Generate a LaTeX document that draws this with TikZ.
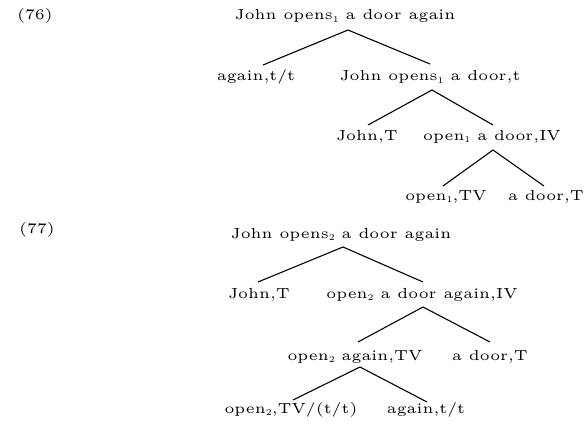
\documentclass[tikz,border=0pt]{standalone}
\usepackage{graphicx}
% small optical size, enlarged: wide letters with heavy strokes
\newcommand\treelabel[1]{\scalebox{2.92}{\fontsize{5}{6}\selectfont #1}}
% index digit set low and small
\newcommand\idx[1]{\raisebox{-0.7pt}{\fontsize{3}{3}\selectfont #1}}
\begin{document}
\begin{tikzpicture}[x=1pt,y=-1pt,
  lbl/.style={anchor=base,inner sep=0pt},
  branch/.style={line width=1.1pt}]
\useasboundingbox (0,0) rectangle (587,428);

% ---- (76) ----
\node[lbl] (n76) at (35,20) {\treelabel{(76)}};
\node[lbl] (r1) at (345,20) {\treelabel{John opens\idx{1} a door again}};
\node[lbl] (a1) at (256,81) {\treelabel{again,t/t}};
\node[lbl] (b1) at (430,81) {\treelabel{John opens\idx{1} a door,t}};
\node[lbl] (c1) at (367,140) {\treelabel{John,T}};
\node[lbl] (d1) at (492,140) {\treelabel{open\idx{1} a door,IV}};
\node[lbl] (e1) at (446,200) {\treelabel{open\idx{1},TV}};
\node[lbl] (f1) at (546,200) {\treelabel{a door,T}};

\draw[branch] ([xshift=7pt,yshift=16pt]a1.base) -- ([xshift=3pt,yshift=-10pt]r1.base)
  -- ([yshift=17pt]b1.base);
\draw[branch] ([xshift=1pt,yshift=15pt]c1.base) -- ([xshift=2pt,yshift=-9pt]b1.base)
  -- ([xshift=1pt,yshift=15pt]d1.base);
\draw[branch] ([xshift=-3pt,yshift=14pt]e1.base) -- ([xshift=1pt,yshift=-10pt]d1.base)
  -- ([xshift=-2pt,yshift=14pt]f1.base);

% ---- (77) ----
\node[lbl] (n77) at (37,233) {\treelabel{(77)}};
\node[lbl] (r2) at (341,238) {\treelabel{John opens\idx{2} a door again}};
\node[lbl] (a2) at (259,298) {\treelabel{John,T}};
\node[lbl] (b2) at (422,298) {\treelabel{open\idx{2} a door again,IV}};
\node[lbl] (c2) at (355,360) {\treelabel{open\idx{2} again,TV}};
\node[lbl] (d2) at (490,360) {\treelabel{a door,T}};
\node[lbl] (e2) at (291,413) {\treelabel{open\idx{2},TV/(t/t)}};
\node[lbl] (f2) at (426,413) {\treelabel{again,t/t}};

\draw[branch] ([xshift=-1pt,yshift=16pt]a2.base) -- ([xshift=2pt,yshift=-9pt]r2.base)
  -- ([xshift=1pt,yshift=16pt]b2.base);
\draw[branch] ([xshift=3pt,yshift=18pt]c2.base) -- ([xshift=1pt,yshift=-9pt]b2.base)
  -- ([yshift=18pt]d2.base);
\draw[branch] ([xshift=2pt,yshift=13pt]e2.base) -- ([xshift=5pt,yshift=-7pt]c2.base)
  -- ([xshift=1pt,yshift=11pt]f2.base);
\end{tikzpicture}
\end{document}
